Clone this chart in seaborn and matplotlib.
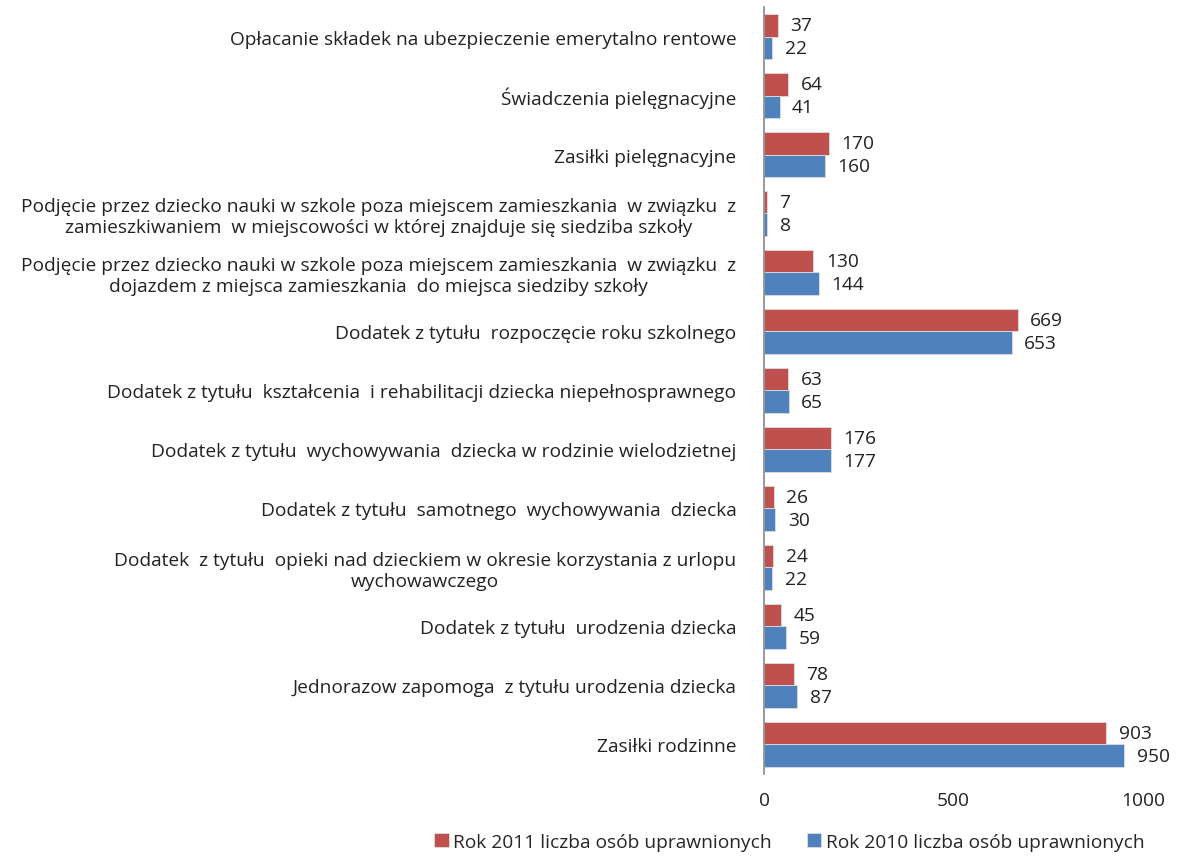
import pandas as pd
import seaborn as sns
import matplotlib.pyplot as plt

categories = [
    "Opłacanie składek na ubezpieczenie emerytalno rentowe",
    "Świadczenia pielęgnacyjne",
    "Zasiłki pielęgnacyjne",
    "Podjęcie przez dziecko nauki w szkole poza miejscem zamieszkania  w związku  z\nzamieszkiwaniem  w miejscowości w której znajduje się siedziba szkoły",
    "Podjęcie przez dziecko nauki w szkole poza miejscem zamieszkania  w związku  z\ndojazdem z miejsca zamieszkania  do miejsca siedziby szkoły",
    "Dodatek z tytułu  rozpoczęcie roku szkolnego",
    "Dodatek z tytułu  kształcenia  i rehabilitacji dziecka niepełnosprawnego",
    "Dodatek z tytułu  wychowywania  dziecka w rodzinie wielodzietnej",
    "Dodatek z tytułu  samotnego  wychowywania  dziecka",
    "Dodatek  z tytułu  opieki nad dzieckiem w okresie korzystania z urlopu\nwychowawczego",
    "Dodatek z tytułu  urodzenia dziecka",
    "Jednorazow zapomoga  z tytułu urodzenia dziecka",
    "Zasiłki rodzinne",
]
rok_2011 = [37, 64, 170, 7, 130, 669, 63, 176, 26, 24, 45, 78, 903]
rok_2010 = [22, 41, 160, 8, 144, 653, 65, 177, 30, 22, 59, 87, 950]
series = ["Rok 2011 liczba osób uprawnionych", "Rok 2010 liczba osób uprawnionych"]
colors = ["#C0504D", "#4F81BD"]

df = pd.DataFrame({
    "kategoria": categories * 2,
    "wartosc": rok_2011 + rok_2010,
    "seria": [series[0]] * len(categories) + [series[1]] * len(categories),
})

sns.set_style("white")
plt.rcParams["font.family"] = ["Open Sans", "DejaVu Sans"]
fs = 13.8

fig = plt.figure(figsize=(11.87, 8.62), dpi=100)
ax = fig.add_axes([0.6437, 0.101, 0.3193, 0.8897])

sns.barplot(data=df, y="kategoria", x="wartosc", hue="seria", hue_order=series,
            palette=colors, width=0.77, saturation=1, edgecolor="#dddddd",
            linewidth=0.6, ax=ax, legend=True)

for cont in ax.containers:
    ax.bar_label(cont, padding=9, fontsize=fs, color="#222222")

ax.set_xlim(0, 1000)
ax.set_ylim(len(categories) - 0.5, -0.5)
ax.set_xticks([0, 500, 1000])
ax.set_xlabel("")
ax.set_ylabel("")
ax.tick_params(axis="x", labelsize=fs, colors="#222222", pad=12, length=0)
ax.tick_params(axis="y", labelsize=fs, colors="#222222", pad=20, length=0)
for lbl in ax.get_yticklabels():
    lbl.set_multialignment("center")
    lbl.set_linespacing(1.15)

for s in ["top", "right", "bottom"]:
    ax.spines[s].set_visible(False)
ax.spines["left"].set_color("#888888")
ax.spines["left"].set_linewidth(1.2)

handles, labels = ax.get_legend_handles_labels()
ax.legend_.remove()
fig.legend(handles, labels, loc="lower center", ncol=2, frameon=False,
           bbox_to_anchor=(0.665, -0.008), fontsize=fs, handlelength=0.75,
           handleheight=0.75, handletextpad=0.25, columnspacing=1.8)

fig.savefig("out.png", dpi=100)
